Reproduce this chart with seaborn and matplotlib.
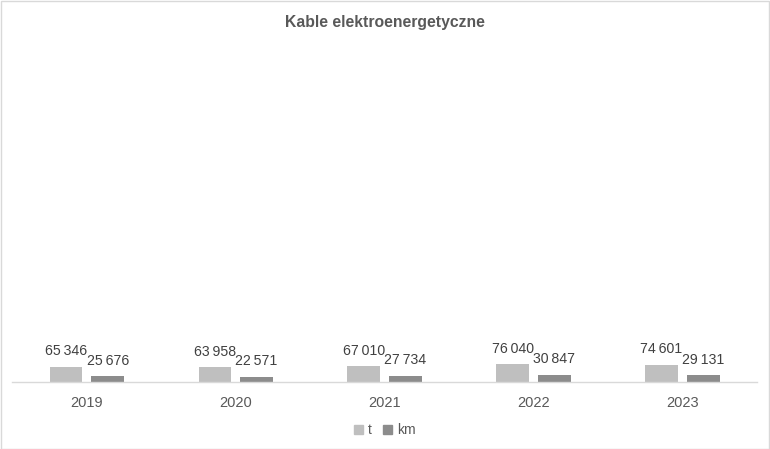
import matplotlib
matplotlib.use("Agg")
import matplotlib.pyplot as plt
import seaborn as sns
import pandas as pd
from matplotlib.patches import Rectangle

# data
years = ["2019", "2020", "2021", "2022", "2023"]
tonnes = [65346, 63958, 67010, 76040, 74601]
km = [25676, 22571, 27734, 30847, 29131]

df = pd.DataFrame({
    "Rok": years * 2,
    "Wartosc": tonnes + km,
    "Jednostka": ["t"] * len(years) + ["km"] * len(years),
})

colors = {"t": "#BFBFBF", "km": "#8C8C8C"}

sns.set_theme(style="white")
plt.rcParams["font.family"] = ["Liberation Sans", "DejaVu Sans"]

fig = plt.figure(figsize=(7.7, 4.49), dpi=100)
ax = fig.add_axes([0.0162, 0.1492, 0.9668, 0.7618])

sns.barplot(data=df, x="Rok", y="Wartosc", hue="Jednostka", palette=colors,
            width=0.56, ax=ax, legend=False, saturation=1)

# narrow the bars a bit to leave a gap inside each pair
for bar in ax.patches:
    c = bar.get_x() + bar.get_width() / 2
    bar.set_width(0.22)
    bar.set_x(c - 0.11)
    bar.set_edgecolor("none")

for cont in ax.containers:
    labels = [f"{v:,.0f}".replace(",", "\u2009") for v in cont.datavalues]
    ax.bar_label(cont, labels=labels, padding=6, fontsize=10.2, color="#404040")

ax.set_xlim(-0.5, 4.5)
ax.set_ylim(0, 1.47e6)
ax.set_yticks([])
ax.set_xlabel("")
ax.set_ylabel("")
for s in ["top", "left", "right"]:
    ax.spines[s].set_visible(False)
ax.spines["bottom"].set_color("#D9D9D9")
ax.spines["bottom"].set_linewidth(1)
ax.tick_params(axis="x", length=0, pad=10, labelsize=10.5, labelcolor="#595959")

fig.text(0.5, 0.951, "Kable elektroenergetyczne", ha="center", va="center",
         fontsize=11.3, fontweight="bold", color="#595959")

handles = [Rectangle((0, 0), 1, 1, color=colors[k]) for k in ["t", "km"]]
fig.legend(handles, ["t", "km"], loc="center", bbox_to_anchor=(0.5, 0.042),
           ncol=2, frameon=False, fontsize=10, labelcolor="#595959",
           handlelength=0.6, handleheight=0.6, handletextpad=0.4, columnspacing=0.8)

# light frame around the whole chart
fig.patches.append(Rectangle((0.001, 0.001), 0.998, 0.997, transform=fig.transFigure,
                             fill=False, edgecolor="#D9D9D9", linewidth=1))

fig.savefig("out.png", dpi=100)
plt.close(fig)
